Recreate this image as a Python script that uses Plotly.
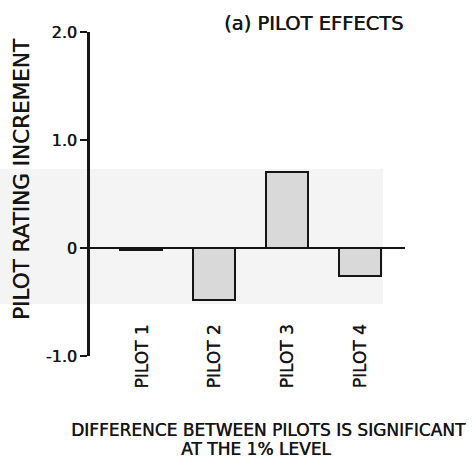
import plotly.graph_objects as go

pilots = ["PILOT 1", "PILOT 2", "PILOT 3", "PILOT 4"]
increments = [-0.02, -0.48, 0.70, -0.26]
y_ticks = [-1.0, 0, 1.0, 2.0]
y_tick_labels = ["-1.0", "0", "1.0", "2.0"]

FONT = "DejaVu Sans, Verdana, sans-serif"
INK = "#151515"
SHADOW = "0.4px 0 0 #151515"
W, H = 476, 458
L, R, T, B = 90, 71, 32, 102


def px(xpix):
    return (xpix - L) / (W - L - R)


def py(ypix):
    return (H - B - ypix) / (H - T - B)


def f(size):
    return dict(family=FONT, size=size, color=INK, shadow=SHADOW)


xs = list(range(len(pilots)))

fig = go.Figure()
fig.add_trace(go.Bar(
    x=xs, y=increments, width=0.575,
    marker=dict(color="#d9d9d9", line=dict(color=INK, width=2)),
    showlegend=False, hoverinfo="skip",
))

annotations = [
    dict(x=px(313), y=py(23), xref="paper", yref="paper",
         text="(a) PILOT EFFECTS", showarrow=False, xanchor="center", yanchor="middle",
         font=f(19.5)),
    dict(x=px(268), y=py(430), xref="paper", yref="paper",
         text="DIFFERENCE BETWEEN PILOTS IS SIGNIFICANT", showarrow=False,
         xanchor="center", yanchor="middle", font=f(17)),
    dict(x=px(256), y=py(449), xref="paper", yref="paper",
         text="AT THE 1% LEVEL", showarrow=False,
         xanchor="center", yanchor="middle", font=f(17)),
    dict(x=px(21), y=py(179), xref="paper", yref="paper",
         text="PILOT RATING INCREMENT", textangle=-90, showarrow=False,
         xanchor="center", yanchor="middle", font=f(21.5)),
]
for i, name in enumerate(pilots):
    annotations.append(dict(x=i, y=-0.69, xref="x", yref="y", text=name,
                            textangle=-90, showarrow=False, yanchor="top", xanchor="center",
                            font=f(17)))

fig.update_layout(
    width=W, height=H,
    margin=dict(l=L, r=R, t=T, b=B),
    paper_bgcolor="white", plot_bgcolor="rgba(0,0,0,0)",
    font=dict(family=FONT, color=INK),
    bargap=0,
    annotations=annotations,
    shapes=[
        dict(type="rect", xref="paper", yref="paper", layer="below",
             x0=px(0), x1=px(383), y0=py(304), y1=py(169),
             fillcolor="#f4f4f4", line=dict(width=0)),
    ],
)

fig.update_xaxes(range=[-0.70, 3.62], showline=False, showgrid=False,
                 zeroline=False, showticklabels=False, ticks="", fixedrange=True)
fig.update_yaxes(range=[-1.0, 2.0], tickvals=y_ticks, ticktext=y_tick_labels,
                 showline=True, linecolor=INK, linewidth=2.5,
                 ticks="outside", ticklen=7, tickwidth=1.5, tickcolor=INK,
                 showgrid=False, zeroline=True, zerolinecolor=INK, zerolinewidth=2,
                 tickfont=f(16), fixedrange=True)

fig.write_html("out.html")
